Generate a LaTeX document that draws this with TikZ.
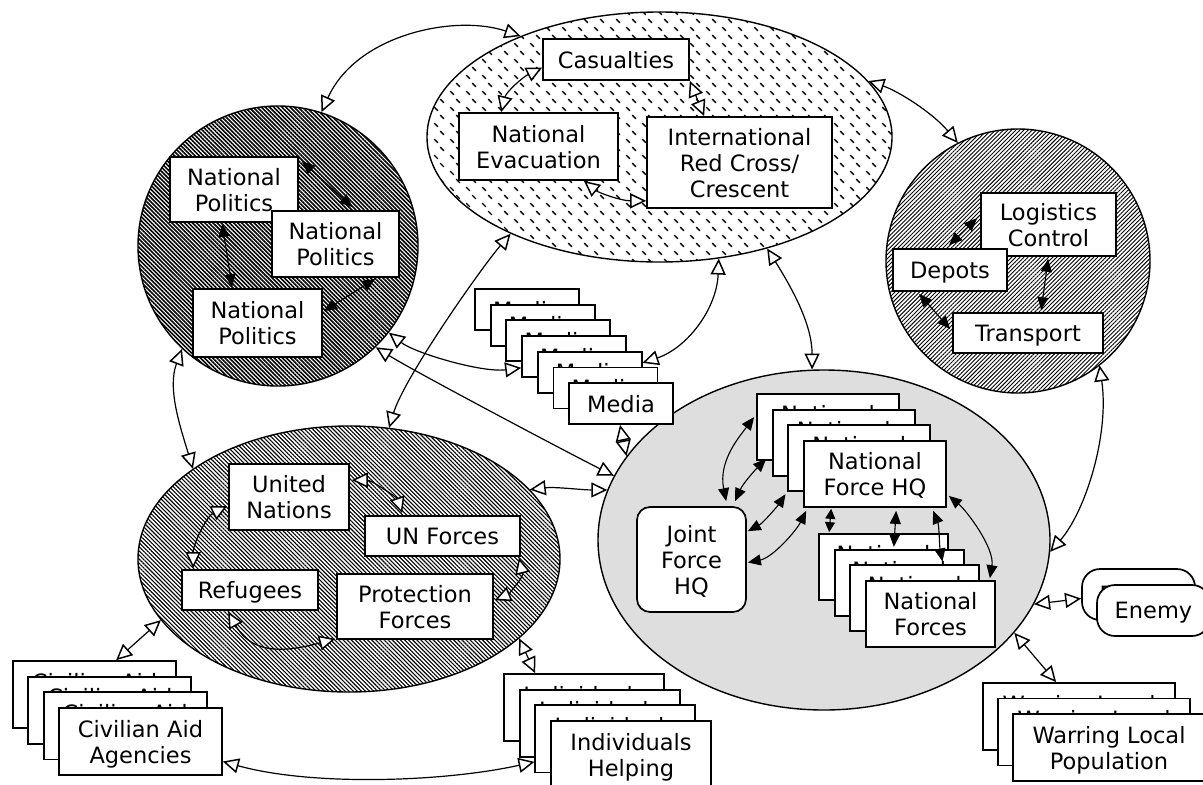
\documentclass[tikz,border=0pt]{standalone}
\usepackage{fontspec}
\setmainfont{DejaVu Sans}
\usetikzlibrary{arrows.meta,shapes.geometric,patterns,patterns.meta,calc}
\pgfdeclarepatternformonly{dashhatch}{\pgfqpoint{-1pt}{-1pt}}{\pgfqpoint{17pt}{17pt}}{\pgfqpoint{16pt}{16pt}}{%
  \pgfsetlinewidth{1.4pt}%
  \pgfpathmoveto{\pgfqpoint{2.2pt}{5.8pt}}%
  \pgfpathlineto{\pgfqpoint{5.8pt}{2.2pt}}%
  \pgfpathmoveto{\pgfqpoint{8.2pt}{13.8pt}}%
  \pgfpathlineto{\pgfqpoint{11.8pt}{10.2pt}}%
  \pgfusepath{stroke}}
\definecolor{lgray}{gray}{0.87}
\tikzset{
  box/.style={draw, line width=1.7pt, fill=white, inner sep=0pt, align=center,
    text depth=0pt, font=\fontsize{22.5}{26}\selectfont},
  rbox/.style={box, rounded corners=13pt},
  ebox/.style={box, rounded corners=18pt},
  grp/.style={draw, line width=1.4pt, inner sep=0pt},
  otip/.tip={Triangle[length=16pt,width=15pt,fill=white,line width=1.5pt]},
  ftip/.tip={Triangle[length=13pt,width=11pt]},
  stip/.tip={Triangle[length=10pt,width=10pt]},
  oarr/.style={line width=1.2pt, otip-otip},
  farr/.style={line width=1.1pt, ftip-ftip},
  sarr/.style={line width=1.1pt, stip-stip}
}
\begin{document}
\begin{tikzpicture}[x=1pt,y=-1pt]
\useasboundingbox (0,0) rectangle (1203,785);

% group shapes
\node[grp, ellipse, minimum width=465pt, minimum height=250pt, pattern=dashhatch] (topE) at (659.5,137) {};
\node[grp, circle, minimum size=280pt, pattern={Lines[angle=-45,distance=2.9pt,line width=1.6pt]}] (leftC) at (278,246) {};
\node[grp, circle, minimum size=264pt, pattern={Lines[angle=45,distance=2.9pt,line width=0.9pt]}] (rightC) at (1018,261) {};
\node[grp, ellipse, minimum width=422pt, minimum height=266pt, pattern={Lines[angle=-45,distance=2.9pt,line width=1.1pt]}] (blE) at (349,559) {};
\node[grp, ellipse, minimum width=452pt, minimum height=340pt, fill=lgray] (grayE) at (824,540) {};

% top ellipse boxes
\node[box, minimum width=146pt, minimum height=41pt] (cas) at (616,59.5) {Casualties};
\node[box, minimum width=159pt, minimum height=67pt] (nev) at (538.5,146.5) {National\\Evacuation};
\node[box, minimum width=185pt, minimum height=91pt] (red) at (739.5,162.5) {International\\Red Cross/\\Crescent};

% left circle boxes
\node[box, minimum width=128pt, minimum height=65pt] (np1) at (234,189.5) {National\\Politics};
\node[box, minimum width=127pt, minimum height=66pt] (np2) at (335.5,244) {National\\Politics};
\node[box, minimum width=129pt, minimum height=68pt] (np3) at (257.5,323) {National\\Politics};

% right circle boxes
\node[box, minimum width=135pt, minimum height=63pt] (log) at (1048.5,224.5) {Logistics\\Control};
\node[box, minimum width=114pt, minimum height=42pt] (dep) at (950,270) {Depots};
\node[box, minimum width=150pt, minimum height=40pt] (tr) at (1028,333) {Transport};

% media stack
\foreach \k in {1,...,7}
  \node[box, minimum width=104pt, minimum height=41pt] (m\k) at ({527+15.67*(\k-1)},{309.5+15.67*(\k-1)}) {Media};

% gray ellipse boxes
\foreach \k in {1,...,4}
  \node[box, minimum width=142pt, minimum height=66pt] (h\k) at ({828+15.67*(\k-1)},{427+15.67*(\k-1)}) {National\\Force HQ};
\foreach \k in {1,...,4}
  \node[box, minimum width=129pt, minimum height=66pt] (f\k) at ({883.5+15.67*(\k-1)},{567+15.67*(\k-1)}) {National\\Forces};
\node[rbox, minimum width=109pt, minimum height=105pt] (jf) at (691.5,559.5) {Joint\\Force\\HQ};

% bottom-left ellipse boxes
\node[box, minimum width=120pt, minimum height=66pt] (un) at (289,497) {United\\Nations};
\node[box, minimum width=155pt, minimum height=40pt] (unf) at (442.5,536) {UN Forces};
\node[box, minimum width=136pt, minimum height=40pt] (ref) at (250,590) {Refugees};
\node[box, minimum width=156pt, minimum height=65pt] (prot) at (415,606.5) {Protection\\Forces};

% outside stacks
\foreach \k in {1,...,4}
  \node[box, minimum width=163pt, minimum height=67pt] (c\k) at ({94.5+15.33*(\k-1)},{694.5+15.67*(\k-1)}) {Civilian Aid\\Agencies};
\foreach \k in {1,...,4}
  \node[box, minimum width=160pt, minimum height=67pt] (i\k) at ({584+15.67*(\k-1)},{707.5+15.67*(\k-1)}) {Individuals\\Helping};
\foreach \k in {1,...,3}
  \node[box, minimum width=192pt, minimum height=67pt] (w\k) at ({1079+15*(\k-1)},{716.5+15.5*(\k-1)}) {Warring Local\\Population};
\node[ebox, minimum width=113pt, minimum height=51pt] (e1) at (1138.5,594.5) {Enemy};
\node[ebox, minimum width=113pt, minimum height=51pt] (e2) at (1153.5,610.5) {Enemy};

% connectors between groups
\draw[oarr] (leftC.72) .. controls +(35,-78) and +(-65,-22) .. (topE.144);
\draw[oarr] (topE.15) .. controls +(30,10) and +(-25,-30) .. (rightC.117);
\draw[oarr] (topE.-64) .. controls +(-2,50) and +(45,-15) .. (m5.10);
\draw[oarr] (topE.-46) .. controls +(25,40) and +(0,-45) .. (grayE.94);
\draw[oarr] (topE.213) .. controls +(-30,35) and +(15,-50) .. (blE.73);
\draw[oarr] (leftC.-38) .. controls +(25,20) and +(-40,5) .. ($(m4.south west)+(0,-10)$);
\draw[oarr] (leftC.-46) .. controls +(40,25) and +(-40,-20) .. (grayE.163);
\draw[oarr] (blE.21) .. controls +(25,-3) and +(-25,0) .. (grayE.167);
\draw[oarr] ($(m7.south)+(-1,0)$) -- (grayE.157.5);
\draw[oarr] (rightC.-52) .. controls +(10,70) and +(35,-40) .. (grayE.-3);
\draw[oarr] (grayE.-17) -- ($(e1.west)+(0,4)$);
\draw[oarr] (grayE.-26) -- ($(w1.north west)+(74,0)$);
\draw[oarr] (blE.-25) -- ($(i1.north west)+(32,0)$);
\draw[oarr] (blE.198) -- ($(c1.north west)+(104,0)$);
\draw[oarr] ($(c4.east)+(0,20)$) .. controls +(90,25) and +(-90,20) .. ($(i3.west)+(0,23)$);
\draw[oarr] (leftC.227) .. controls +(-15,40) and +(-12,-40) .. (blE.150);

% inside top ellipse
\draw[oarr] ($(cas.west)+(0,8)$) .. controls +(-20,10) and +(5,-20) .. ($(nev.north west)+(43,0)$);
\draw[oarr] (cas.south east) -- ($(red.north west)+(58,0)$);
\draw[oarr] ($(nev.south east)+(-35,0)$) .. controls +(15,12) and +(-25,0) .. ($(red.south west)+(0,-8)$);

% inside left circle
\draw[farr] ($(np1.north east)+(3,5)$) -- ($(np2.north)+(17,-3)$);
\draw[farr] ($(np1.south west)+(53,1)$) -- ($(np3.north west)+(40,-1)$);
\draw[farr] ($(np2.south west)+(104,1)$) -- ($(np3.north east)+(1,23)$);

% inside right circle
\draw[farr] ($(dep.north west)+(57,-3)$) -- ($(log.north west)+(-3,26)$);
\draw[farr] ($(log.south west)+(68,2)$) -- ($(tr.north west)+(89,-2)$);
\draw[farr] ($(dep.south west)+(27,2)$) -- ($(tr.west)+(-2,-4)$);

% inside gray ellipse
\draw[farr] ($(jf.north west)+(90,-5)$) .. controls +(-8,-40) and +(-15,20) .. ($(h1.west)+(-2,-10)$);
\draw[farr] ($(jf.north west)+(99,-5)$) .. controls +(8,-18) and +(-10,10) .. ($(h1.south west)+(10,-2)$);
\draw[farr] ($(jf.north east)+(1,25)$) .. controls +(15,-8) and +(-8,12) .. ($(h3.south west)+(-2,2)$);
\draw[farr] ($(jf.east)+(1,3)$) .. controls +(25,-5) and +(-10,20) .. ($(h4.south west)+(3,3)$);
\draw[sarr] ($(h4.south west)+(28,1)$) -- ($(f1.north west)+(11,-1)$);
\draw[farr] ($(h4.south west)+(93,3)$) -- ($(f2.north west)+(60,-2)$);
\draw[farr] ($(h4.south west)+(130,3)$) .. controls +(6,15) and +(-3,-15) .. ($(f3.north west)+(93,-3)$);
\draw[farr] ($(h4.south east)+(2,-12)$) .. controls +(18,15) and +(5,-30) .. ($(f4.north east)+(-6,-2)$);

% inside bottom-left ellipse
\draw[oarr] ($(un.north east)+(2,17)$) .. controls +(20,0) and +(-5,-15) .. ($(unf.north west)+(38,-2)$);
\draw[oarr] ($(un.west)+(-1,9)$) .. controls +(-20,10) and +(0,-25) .. ($(ref.north west)+(12,-1)$);
\draw[oarr] ($(unf.south east)+(-2,1)$) .. controls +(5,20) and +(12,-5) .. ($(prot.north east)+(1,27)$);
\draw[oarr] ($(ref.south west)+(47,1)$) .. controls +(25,45) and +(-45,12) .. ($(prot.south west)+(-1,-1)$);
\end{tikzpicture}
\end{document}
